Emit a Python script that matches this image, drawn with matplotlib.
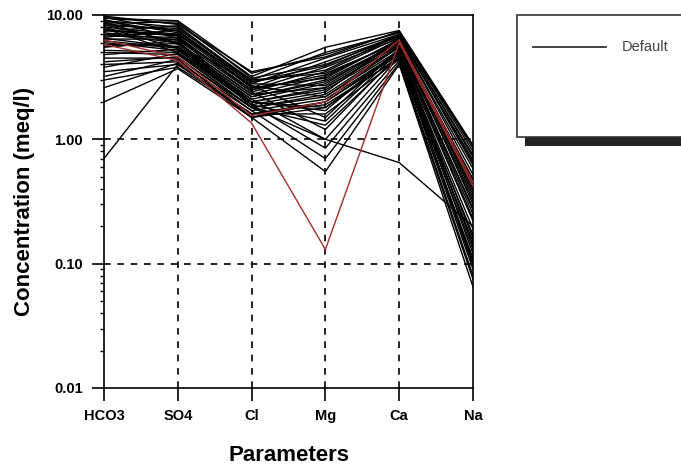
import matplotlib.pyplot as plt
from matplotlib.patches import Rectangle
from matplotlib.lines import Line2D
from matplotlib.ticker import FixedLocator, LogLocator, NullFormatter

# Schoeller diagram: one line per water sample (meq/l)
parameters = ['HCO3', 'SO4', 'Cl', 'Mg', 'Ca', 'Na']

hco3 = [9.5, 9.0, 8.5, 8.0, 9.2, 7.5, 7.0, 8.8, 6.5, 6.0, 7.8, 5.5, 5.0, 4.5, 4.0,
        3.5, 3.0, 8.2, 6.8, 5.8, 2.0, 0.7, 9.0, 7.2, 6.2, 5.2, 4.2, 3.2, 7.6, 9.4,
        8.6, 7.4, 6.6, 9.6, 8.4, 5.6, 4.8, 3.8, 2.6, 9.8, 7.0, 6.4, 8.0]
so4 = [8.5, 8.0, 7.5, 7.0, 6.5, 6.8, 6.0, 5.8, 5.5, 5.2, 5.0, 6.2, 4.8, 4.5, 4.2,
       4.0, 3.8, 7.8, 6.6, 5.6, 3.7, 4.0, 7.2, 6.3, 5.4, 5.0, 4.6, 4.4, 6.9, 9.0,
       8.8, 8.2, 7.6, 7.4, 6.0, 5.9, 5.3, 4.9, 4.1, 8.4, 7.0, 6.4, 5.4]
cl = [3.2, 3.0, 2.8, 2.6, 2.5, 2.4, 2.3, 2.2, 2.1, 2.0, 2.0, 1.9, 1.8, 1.8, 1.7,
      1.6, 1.6, 2.9, 2.5, 2.2, 1.5, 1.6, 2.7, 2.4, 2.1, 1.9, 1.7, 1.5, 1.8, 3.4,
      3.1, 2.9, 2.6, 2.8, 2.3, 2.0, 1.9, 1.8, 1.5, 3.5, 3.0, 2.7, 2.0]
mg = [5.5, 5.0, 4.5, 4.2, 3.8, 3.5, 3.2, 3.0, 2.8, 2.6, 2.5, 2.4, 2.3, 2.2, 2.1,
      2.0, 1.9, 3.6, 3.3, 2.9, 1.8, 1.6, 1.5, 1.2, 1.0, 0.85, 0.7, 0.55, 1.0, 4.8,
      4.0, 3.9, 3.1, 2.7, 2.6, 1.7, 1.4, 1.3, 2.0, 4.6, 3.4, 2.2, 1.8]
ca = [7.5, 7.2, 7.0, 6.8, 6.5, 6.6, 6.3, 6.0, 6.2, 5.8, 5.5, 6.4, 5.6, 5.2, 5.0,
      4.8, 4.5, 6.9, 6.1, 5.9, 4.6, 4.4, 5.4, 4.9, 4.6, 4.3, 4.1, 4.0, 0.65, 7.3,
      6.7, 7.0, 6.4, 6.0, 5.7, 5.3, 5.1, 4.7, 5.0, 7.4, 6.0, 5.5, 5.0]
na = [0.90, 0.80, 0.72, 0.65, 0.58, 0.52, 0.46, 0.40, 0.36, 0.32, 0.28, 0.30, 0.25,
      0.22, 0.19, 0.17, 0.15, 0.75, 0.42, 0.34, 0.13, 0.11, 0.14, 0.10, 0.09, 0.08,
      0.075, 0.065, 0.20, 0.85, 0.68, 0.62, 0.44, 0.38, 0.27, 0.16, 0.12, 0.105,
      0.14, 0.88, 0.48, 0.23, 0.095]

# highlighted samples
red_samples = [
    [5.8, 4.3, 1.35, 0.13, 6.0, 0.42],
    [6.3, 4.6, 1.55, 2.0, 6.3, 0.45],
]

y_ticks = [0.01, 0.1, 1, 10]
y_labels = ['0.01', '0.10', '1.00', '10.00']

plt.rcParams['font.family'] = ['Liberation Sans', 'DejaVu Sans']

fig = plt.figure(figsize=(6.81, 4.70), dpi=100)
ax = fig.add_axes([0.1527, 0.1745, 0.5419, 0.7936])

x = list(range(len(parameters)))
for row in zip(hco3, so4, cl, mg, ca, na):
    ax.plot(x, row, color='black', lw=1.0, zorder=3)
for row in red_samples:
    ax.plot(x, row, color='#a32c2c', lw=1.0, zorder=4)

ax.set_yscale('log')
ax.set_ylim(0.01, 10)
ax.set_xlim(0, len(parameters) - 1)

ax.set_xticks(x)
ax.set_xticklabels(parameters, fontsize=10.5, fontweight='bold')
ax.yaxis.set_major_locator(FixedLocator(y_ticks))
ax.set_yticklabels(y_labels, fontsize=10.5, fontweight='bold')
ax.yaxis.set_minor_locator(LogLocator(base=10, subs=range(2, 10)))
ax.yaxis.set_minor_formatter(NullFormatter())

ax.tick_params(axis='both', which='major', direction='out', length=9,
               width=1.2, pad=6, colors='black')
ax.tick_params(axis='y', which='minor', direction='out', length=3, width=1)

for s in ax.spines.values():
    s.set_linewidth(1.2)

# dashed grid
for v in [0.1, 1]:
    ax.axhline(v, color='black', lw=1.2, ls=(0, (4, 4)), zorder=2)
for xi in x[1:-1]:
    ax.axvline(xi, color='black', lw=1.2, ls=(0, (4, 4)), zorder=2)

ax.set_xlabel('Parameters', fontsize=16, fontweight='bold', labelpad=16)
ax.set_ylabel('Concentration (meq/l)', fontsize=16, fontweight='bold', labelpad=8)

# legend box with drop shadow
W, H = 681, 470
fig.patches.append(Rectangle((525 / W, 1 - 146 / H), 180 / W, 10 / H,
                             transform=fig.transFigure, facecolor='#222222',
                             edgecolor='none', zorder=1))
fig.patches.append(Rectangle((517 / W, 1 - 137 / H), 180 / W, 122 / H,
                             transform=fig.transFigure, facecolor='white',
                             edgecolor='#333333', lw=1.2, zorder=2))
fig.lines.append(Line2D([533 / W, 606 / W], [1 - 47 / H, 1 - 47 / H],
                        transform=fig.transFigure, color='#333333', lw=1.3,
                        zorder=3))
fig.text(622 / W, 1 - 47 / H, 'Default', fontsize=10.5, color='#444444',
         va='center', ha='left', zorder=3)

fig.savefig('out.png', dpi=100)
